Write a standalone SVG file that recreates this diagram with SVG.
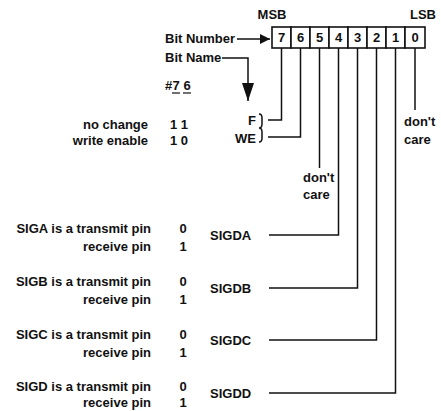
<svg xmlns="http://www.w3.org/2000/svg" width="441" height="411" viewBox="0 0 441 411">
<style>
text{font-family:"Liberation Sans",Arial,sans-serif;font-weight:bold;font-size:13px;fill:#111}
.e{text-anchor:end}
.m{text-anchor:middle}
.c{fill:none;stroke:#111;stroke-width:1.5}
.cell{fill:#fff;stroke:#111;stroke-width:1.6}
</style>
<defs>
<marker id="ah" viewBox="0 0 10 10" refX="10" refY="5" markerWidth="10" markerHeight="10" markerUnits="userSpaceOnUse" orient="auto"><path d="M0,0 L10,5 L0,10 z" fill="#111"/></marker>
<marker id="ahb" viewBox="0 0 18 12" refX="18" refY="6" markerWidth="18" markerHeight="12" markerUnits="userSpaceOnUse" orient="auto"><path d="M0,0 L18,6 L0,12 z" fill="#111"/></marker>
</defs>
<g id="register">
<text x="272" y="19" class="m">MSB</text>
<text x="423" y="19" class="m">LSB</text>
<rect class="cell" x="272" y="27" width="19" height="21"/>
<rect class="cell" x="291" y="27" width="19" height="21"/>
<rect class="cell" x="310" y="27" width="19" height="21"/>
<rect class="cell" x="329" y="27" width="19" height="21"/>
<rect class="cell" x="348" y="27" width="19" height="21"/>
<rect class="cell" x="367" y="27" width="19" height="21"/>
<rect class="cell" x="386" y="27" width="19" height="21"/>
<rect class="cell" x="405" y="27" width="20" height="21"/>
<text x="281.5" y="42" class="m">7</text>
<text x="300.5" y="42" class="m">6</text>
<text x="319.5" y="42" class="m">5</text>
<text x="338.5" y="42" class="m">4</text>
<text x="357.5" y="42" class="m">3</text>
<text x="376.5" y="42" class="m">2</text>
<text x="395.5" y="42" class="m">1</text>
<text x="415" y="42" class="m">0</text>
</g>
<g id="labels">
<text x="165" y="43">Bit Number</text>
<text x="165" y="62">Bit Name</text>
<text x="165" y="90">#</text>
<text x="176" y="90" class="m">7</text>
<text x="187" y="90" class="m">6</text>
<line x1="172" y1="93" x2="180" y2="93" stroke="#111" stroke-width="1.2"/>
<line x1="183" y1="93" x2="191" y2="93" stroke="#111" stroke-width="1.2"/>
</g>
<g id="bits76">
<text x="148" y="129" class="e">no change</text>
<text x="148" y="145" class="e">write enable</text>
<text x="179" y="129" class="m">1 1</text>
<text x="179" y="145" class="m">1 0</text>
<text x="256" y="125" class="e">F</text>
<text x="256" y="143" class="e">WE</text>
<path class="c" stroke-width="1.2" d="M259,114 q3,0 3,4 v6 q0,4 -3,4 q3,0 3,4 v6 q0,4 -3,4"/>
</g>
<g id="bit5">
<text x="303" y="182">don't</text>
<text x="303" y="199">care</text>
</g>
<g id="bit0">
<text x="404" y="126">don't</text>
<text x="404" y="144">care</text>
</g>
<g id="siga">
<text x="151" y="233" class="e">SIGA is a transmit pin</text>
<text x="151" y="251" class="e">receive pin</text>
<text x="183" y="233" class="m">0</text>
<text x="183" y="251" class="m">1</text>
<text x="210" y="240">SIGDA</text>
</g>
<g id="sigb">
<text x="151" y="286" class="e">SIGB is a transmit pin</text>
<text x="151" y="304" class="e">receive pin</text>
<text x="183" y="286" class="m">0</text>
<text x="183" y="304" class="m">1</text>
<text x="210" y="293">SIGDB</text>
</g>
<g id="sigc">
<text x="151" y="339" class="e">SIGC is a transmit pin</text>
<text x="151" y="357" class="e">receive pin</text>
<text x="183" y="339" class="m">0</text>
<text x="183" y="357" class="m">1</text>
<text x="210" y="345">SIGDC</text>
</g>
<g id="sigd">
<text x="151" y="391" class="e">SIGD is a transmit pin</text>
<text x="151" y="407" class="e">receive pin</text>
<text x="183" y="391" class="m">0</text>
<text x="183" y="407" class="m">1</text>
<text x="210" y="398">SIGDD</text>
</g>
<g id="connectors">
<path class="c" d="M237,39 H270" marker-end="url(#ah)"/>
<path class="c" d="M222,58 H248 V101" marker-end="url(#ahb)"/>
<path class="c" d="M281.5,48 V120 H268"/>
<path class="c" d="M300.5,48 V137 H268"/>
<path class="c" d="M319.5,48 V168"/>
<path class="c" d="M338.5,48 V235 H269"/>
<path class="c" d="M357.5,48 V288 H269"/>
<path class="c" d="M376.5,48 V340 H269"/>
<path class="c" d="M395.5,48 V393 H269"/>
<path class="c" d="M415,48 V110"/>
</g>
</svg>
